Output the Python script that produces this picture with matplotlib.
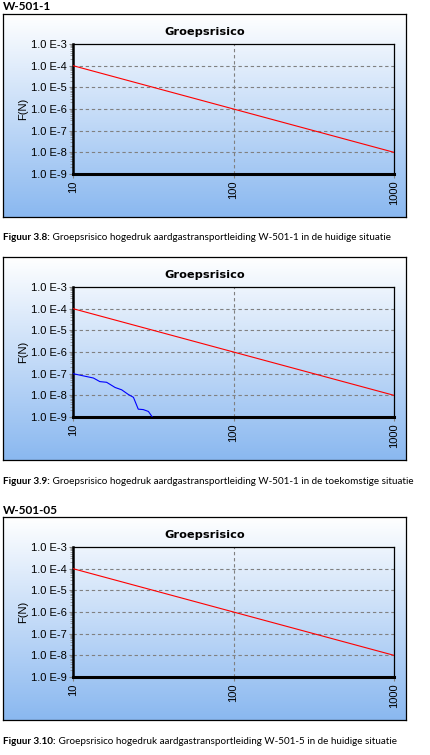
import numpy as np
import matplotlib
matplotlib.use("Agg")
import matplotlib.pyplot as plt
from matplotlib.colors import LinearSegmentedColormap
from matplotlib.ticker import FixedLocator, LogLocator, NullFormatter

# data
n_red = [10, 1000]
f_red = [1e-4, 1e-8]

n_blue = [10, 11.9, 13.4, 14.7, 16.2, 18.3, 20.1, 22.1, 23.8, 25.5, 27.4, 29.5, 31.2]
f_blue = [1e-7, 7.6e-8, 6.3e-8, 4.3e-8, 4.0e-8, 2.3e-8, 1.8e-8, 1.1e-8, 8.1e-9,
          2.3e-9, 2.2e-9, 1.8e-9, 1e-9]

y_ticks = [1e-9, 1e-8, 1e-7, 1e-6, 1e-5, 1e-4, 1e-3]
y_labels = ["1.0 E-9", "1.0 E-8", "1.0 E-7", "1.0 E-6", "1.0 E-5", "1.0 E-4", "1.0 E-3"]
x_ticks = [10, 100, 1000]
x_labels = ["10", "100", "1000"]

chart_title = "Groepsrisico"
y_title = "F(N)"

headers = ["W-501-1", None, "W-501-05"]
cap_bold = ["Figuur 3.8:", "Figuur 3.9:", "Figuur 3.10:"]
cap_text = [" Groepsrisico hogedruk aardgastransportleiding W-501-1 in de huidige situatie",
            " Groepsrisico hogedruk aardgastransportleiding W-501-1 in de toekomstige situatie",
            " Groepsrisico hogedruk aardgastransportleiding W-501-5 in de huidige situatie"]
show_blue = [False, True, False]

# layout in pixels (top-down)
W, H = 430, 755
box_tops = [14, 257, 517]
BOX_H = 203

fig = plt.figure(figsize=(W / 100, H / 100), dpi=100)

grad = LinearSegmentedColormap.from_list("bg", ["#ffffff", "#8ab8f0"])
TICK_FONT = "Liberation Sans"
CAP_FONT = "Lato"


def fx(px):
    return px / W


def fy(py):
    return 1 - py / H


for i in range(3):
    top = box_tops[i]
    # background box with gradient
    bg = fig.add_axes([fx(3), fy(top + BOX_H), fx(403), BOX_H / H])
    bg.imshow(np.linspace(0, 1, 256).reshape(-1, 1), aspect="auto", cmap=grad,
              extent=[0, 1, 0, 1], origin="upper")
    bg.set_xticks([])
    bg.set_yticks([])
    for s in bg.spines.values():
        s.set_linewidth(0.9)
        s.set_color("black")

    ax = fig.add_axes([fx(73), fy(top + 160), fx(321), 130 / H])
    ax.set_facecolor("none")
    ax.set_xscale("log")
    ax.set_yscale("log")
    ax.set_xlim(10, 1000)
    ax.set_ylim(1e-9, 1e-3)

    ax.plot(n_red, f_red, color="#ff0000", lw=0.8, zorder=3)
    if show_blue[i]:
        ax.plot(n_blue, f_blue, color="#0000ff", lw=0.8, zorder=3)

    ax.yaxis.set_major_locator(FixedLocator(y_ticks))
    ax.set_yticklabels(y_labels, fontsize=8, family=TICK_FONT)
    ax.yaxis.set_minor_locator(LogLocator(base=10, subs=np.arange(2, 10), numticks=20))
    ax.yaxis.set_minor_formatter(NullFormatter())
    ax.xaxis.set_major_locator(FixedLocator(x_ticks))
    ax.set_xticklabels(x_labels, fontsize=8, family=TICK_FONT, rotation=90)
    ax.xaxis.set_minor_locator(FixedLocator([]))
    ax.tick_params(which="major", length=3, width=0.8, color="#808080", pad=1.5)
    ax.tick_params(which="minor", length=2, width=0.5, color="#808080")

    for yv in y_ticks[1:-1]:
        ax.axhline(yv, color="#808080", lw=0.8, ls=(0, (3, 2.5)), zorder=1)
    ax.axvline(100, color="#808080", lw=0.8, ls=(0, (3, 2.5)), zorder=1)

    ax.spines["left"].set_linewidth(1.8)
    ax.spines["bottom"].set_linewidth(2.2)
    ax.spines["top"].set_linewidth(0.9)
    ax.spines["right"].set_linewidth(0.9)

    ax.set_ylabel(y_title, fontsize=8, family=TICK_FONT, labelpad=2)

    fig.text(fx(204.5), fy(top + 18), chart_title, ha="center", va="center",
             fontsize=8.2, fontweight="bold", family="DejaVu Sans")

    if headers[i]:
        fig.text(fx(3), fy(top - 7), headers[i], ha="left", va="center",
                 fontsize=8.5, fontweight="bold", family=CAP_FONT)

    cap_y = fy(top + BOX_H + 21)
    t = fig.text(fx(3), cap_y, cap_bold[i], ha="left", va="center",
                 fontsize=7.1, fontweight="bold", family=CAP_FONT)
    ax.annotate(cap_text[i], xy=(1, 0.5), xycoords=t, ha="left", va="center",
                fontsize=7.1, family=CAP_FONT, annotation_clip=False)

fig.savefig("out.png", dpi=100)
